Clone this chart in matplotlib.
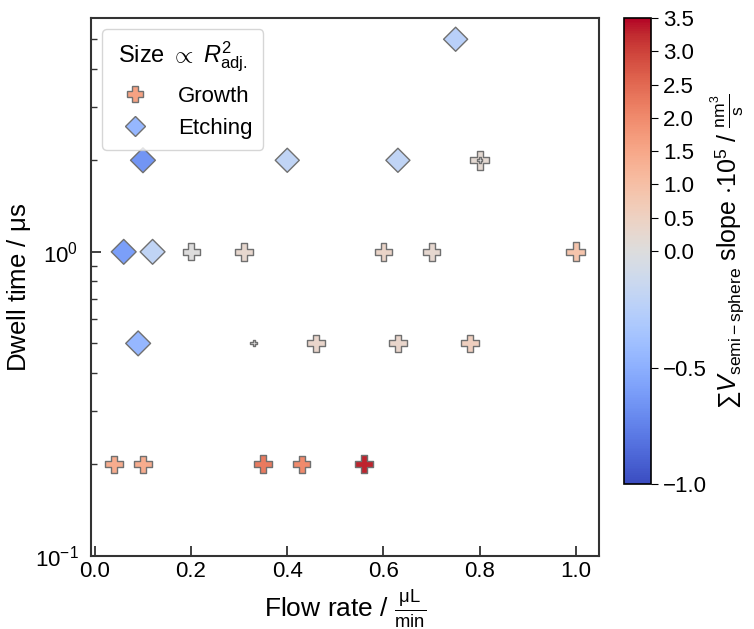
#!/usr/bin/env python3
"""Dwell time vs flow rate scatter, coloured by summed volume slope."""

import matplotlib

matplotlib.use("Agg")
import matplotlib.pyplot as plt
from matplotlib.colors import TwoSlopeNorm
from matplotlib.lines import Line2D
from matplotlib.ticker import LogLocator, NullFormatter

plt.rcParams["font.family"] = ["Liberation Sans", "DejaVu Sans"]
plt.rcParams["mathtext.fontset"] = "custom"
plt.rcParams["mathtext.rm"] = "Liberation Sans"
plt.rcParams["mathtext.it"] = "Liberation Sans:italic"

# Growth points (positive slope)
growth_flow = [0.80, 0.80, 0.20, 0.31, 0.60, 0.70, 1.00,
               0.33, 0.46, 0.63, 0.78,
               0.04, 0.10, 0.35, 0.43, 0.56]
growth_dwell = [2.0, 2.0, 1.0, 1.0, 1.0, 1.0, 1.0,
                0.5, 0.5, 0.5, 0.5,
                0.2, 0.2, 0.2, 0.2, 0.2]
growth_slope = [0.20, 0.02, 0.02, 0.30, 0.40, 0.25, 0.90,
                0.02, 0.35, 0.35, 0.55,
                1.40, 1.40, 2.25, 2.00, 3.30]
growth_r2 = [0.90, 0.08, 0.75, 0.80, 0.80, 0.80, 0.95,
             0.10, 0.80, 0.80, 0.80,
             0.80, 0.80, 0.85, 0.80, 0.85]

# Etching points (negative slope)
etch_flow = [0.75, 0.10, 0.40, 0.63, 0.06, 0.12, 0.09]
etch_dwell = [5.0, 2.0, 2.0, 2.0, 1.0, 1.0, 0.5]
etch_slope = [-0.25, -0.65, -0.20, -0.20, -0.60, -0.20, -0.45]
etch_r2 = [0.75, 0.80, 0.75, 0.75, 0.80, 0.80, 0.80]

cbar_ticks = [-1.0, -0.5, 0.0, 0.5, 1.0, 1.5, 2.0, 2.5, 3.0, 3.5]


def plot_dwell(image_name="out.png", cmap="coolwarm"):
    fig = plt.figure(figsize=(7.54, 6.29), dpi=100)
    ax = fig.add_axes([0.1207, 0.1161, 0.6737, 0.8553])
    cax = fig.add_axes([0.8276, 0.2305, 0.0358, 0.7409])

    norm = TwoSlopeNorm(vmin=-1.0, vcenter=0.0, vmax=3.5)
    scale = 200

    sc = ax.scatter(growth_flow, growth_dwell, c=growth_slope,
                    s=[scale * r for r in growth_r2], marker="P",
                    cmap=cmap, norm=norm, edgecolors="#707070",
                    linewidths=1.0, zorder=3)
    ax.scatter(etch_flow, etch_dwell, c=etch_slope,
               s=[scale * r for r in etch_r2], marker="D",
               cmap=cmap, norm=norm, edgecolors="#707070",
               linewidths=1.0, zorder=3)

    ax.set_yscale("log")
    ax.set_ylim(bottom=0.1)
    ax.set_xticks([0.0, 0.2, 0.4, 0.6, 0.8, 1.0])
    ax.yaxis.set_minor_locator(LogLocator(base=10, subs=range(2, 10)))
    ax.yaxis.set_minor_formatter(NullFormatter())

    ax.tick_params(direction="in", which="both", labelsize=16, color="#333333")
    ax.tick_params(which="major", length=7, width=1.3)
    ax.tick_params(which="minor", length=4, width=1.0)
    ax.tick_params(axis="y", which="major", pad=9)
    for sp in ax.spines.values():
        sp.set_linewidth(1.5)
        sp.set_color("#333333")

    ax.set_xlabel(r"Flow rate / $\frac{\mathrm{\mu L}}{\mathrm{min}}$", fontsize=19)
    ax.set_ylabel(r"Dwell time / $\mathrm{\mu s}$", fontsize=18.5, labelpad=1)

    cmap_obj = plt.get_cmap(cmap)
    handles = [
        Line2D([], [], marker="P", linestyle="none", markersize=11,
               markerfacecolor=cmap_obj(norm(1.6)), markeredgecolor="#707070"),
        Line2D([], [], marker="D", linestyle="none", markersize=10,
               markerfacecolor=cmap_obj(norm(-0.45)), markeredgecolor="#707070"),
    ]
    leg = ax.legend(handles, ["Growth", "Etching"], loc="upper left",
                    title=r"Size $\propto$ $R^2_{\mathrm{adj.}}$",
                    fontsize=16, title_fontsize=17, frameon=True,
                    borderpad=0.5, handletextpad=0.9, labelspacing=0.5)
    leg.get_frame().set_edgecolor("#cccccc")

    cbar = fig.colorbar(sc, cax=cax)
    cbar.set_ticks(cbar_ticks)
    cbar.ax.tick_params(labelsize=16, direction="out", length=5)
    cbar.outline.set_linewidth(1.2)
    cbar.set_label(r"$\sum V_{\mathrm{semi-sphere}}$ slope $\cdot 10^5$ / "
                   r"$\frac{\mathrm{nm}^3}{\mathrm{s}}$", fontsize=18, labelpad=1)

    fig.savefig(image_name, dpi=100)
    return 0


if __name__ == "__main__":
    plot_dwell()
